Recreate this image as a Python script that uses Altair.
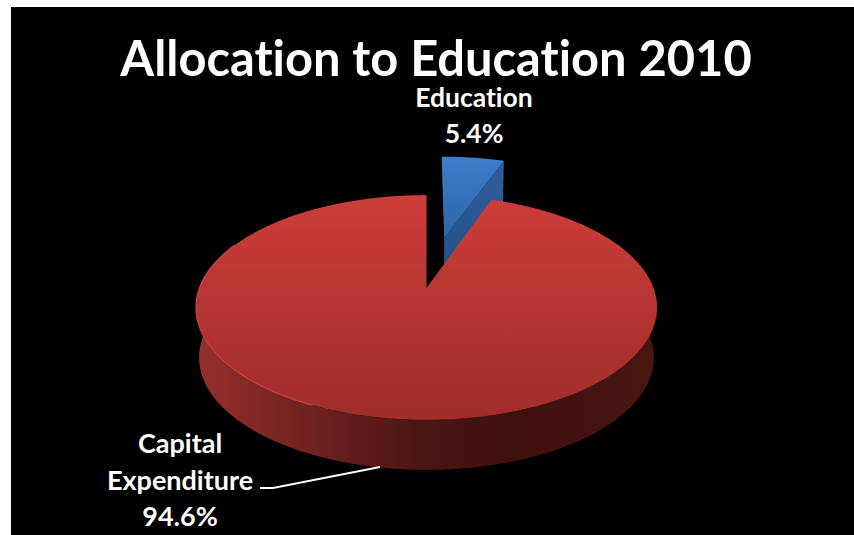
import math
import altair as alt

# Slice values, in percent, clockwise from twelve o'clock
categories = ["Education", "Capital Expenditure"]
shares = [5.4, 94.6]
# U+200C keeps the bold face from fusing "ti" into one glyph
title_text = "Allocat\u200cion to Educat\u200cion 2010"
label_lines = [["Educat\u200cion"], ["Capital", "Expenditure"]]

W, H = 854, 535
CX, CY = 426.5, 288   # centre of the top face
RX, RY = 227, 109     # semi-axes of the top face
TILT = 0.1734         # perspective strength along the depth axis
DEPTH = 50            # thickness of the pie
BASE_RX = 224         # the lower face is slightly narrower
EXPLODE = 0.5         # how far the small slice is pulled out
SLICE_GROW = 1.03     # the pulled-out slice sits a little larger


def project(u, v, lower=False):
    """Tilted-disc coordinates (u right, v away from viewer) to canvas pixels."""
    w = 1 + TILT * v
    rx = BASE_RX if lower else RX
    return [CX + rx * u / w, CY + (DEPTH if lower else 0) - RY * v / w]


def rim(t0, t1, du=0.0, dv=0.0, lower=False, step=1.0, radius=1.0):
    n = max(2, int(abs(t1 - t0) / step) + 1)
    pts = []
    for i in range(n):
        t = math.radians(t0 + (t1 - t0) * i / (n - 1))
        pts.append(project(du + radius * math.sin(t), dv + radius * math.cos(t), lower))
    return pts


def polygon(points):
    ring = points + [points[0]]
    return [{"type": "Feature", "properties": {}, "geometry": {"type": "Polygon", "coordinates": [ring]}}]


def line(points):
    return [{"type": "Feature", "properties": {}, "geometry": {"type": "LineString", "coordinates": points}}]


def gradient(stops, horizontal=False):
    return alt.Gradient(
        gradient="linear",
        x1=0, y1=0,
        x2=1 if horizontal else 0,
        y2=0 if horizontal else 1,
        stops=[alt.GradientStop(offset=o, color=c) for o, c in stops],
    )


def shape(features, **mark):
    return alt.Chart(alt.Data(values=features)).mark_geoshape(**mark).project(
        type="identity", scale=1, translate=[0, 0]
    )


def text_layer(lines, x, baselines, size):
    rows = [{"label": s, "row": i} for i, s in enumerate(lines)]
    layers = []
    for row, base in zip(rows, baselines):
        layers.append(
            alt.Chart(alt.Data(values=[row])).mark_text(
                font="Lato", fontWeight="bold", fontSize=size, color="white", align="center", baseline="alphabetic"
            ).encode(text="label:N", x=alt.value(x), y=alt.value(base))
        )
    return layers


sweep = shares[0] / 100 * 360
mid = math.radians(sweep / 2)
du, dv = EXPLODE * math.sin(mid), EXPLODE * math.cos(mid)

# Canvas and dark panel
canvas = shape(polygon([[0, 0], [W, 0], [W, H], [0, H]]), fill="white", stroke=None)
panel = shape(polygon([[11, 7], [W, 7], [W, H], [11, H]]), fill="black", stroke=None)

# Pulled-out slice: inner wall first, then its top face
blue_apex = project(du, dv)
blue_outer = rim(sweep, sweep, du, dv, radius=SLICE_GROW)[0]
blue_apex_low = project(du, dv, True)
blue_outer_low = rim(sweep, sweep, du, dv, True, radius=SLICE_GROW)[0]
blue_wall = shape(
    polygon([blue_apex, blue_outer, blue_outer_low, blue_apex_low]),
    fill=gradient([(0, "#2f5f9c"), (1, "#234e86")]), stroke=None,
)
blue_top = shape(
    polygon([blue_apex] + rim(0, sweep, du, dv, radius=SLICE_GROW)),
    fill=gradient([(0, "#3d7dcb"), (1, "#2f64a6")]), stroke=None,
)

# Main slice: side band, then top face
side_pts = rim(85, 275) + rim(275, 85, lower=True)
red_side = shape(
    polygon(side_pts),
    fill=gradient(
        [(0.0, "#93302c"), (0.08, "#8a2a28"), (0.2, "#772422"), (0.35, "#5f1c19"),
         (0.5, "#4b1512"), (0.66, "#3e110e"), (0.85, "#43130f"), (1.0, "#4a1511")],
        horizontal=True,
    ),
    stroke=None,
)
red_top = shape(
    polygon([project(0, 0)] + rim(sweep, 360)),
    fill=gradient([(0, "#cd3d3a"), (0.55, "#b23431"), (1, "#a02d2a")]), stroke=None,
)
rim_light = shape(line(rim(205, 295)), fill=None, stroke="#c0443c", strokeWidth=1.3, filled=False)

# Leader from the label to the side band
leader = shape(line([[260, 488], [273, 488], [380, 467]]), fill=None, stroke="white", strokeWidth=1.8, filled=False)

labels = (
    text_layer([title_text], 436, [76], 48.8)
    + text_layer(label_lines[0] + [f"{shares[0]}%"], 474, [107, 143], 26.5)
    + text_layer(label_lines[1] + [f"{shares[1]}%"], 180, [453, 490, 526], 27)
)

chart = alt.layer(
    canvas, panel, blue_wall, blue_top, red_side, red_top, rim_light, leader, *labels
).properties(
    width=W, height=H, padding=0, background="white",
    autosize=alt.AutoSizeParams(type="none"),
).configure_view(stroke=None)

chart.save("out.html", embed_options={"renderer": "svg", "actions": False})
